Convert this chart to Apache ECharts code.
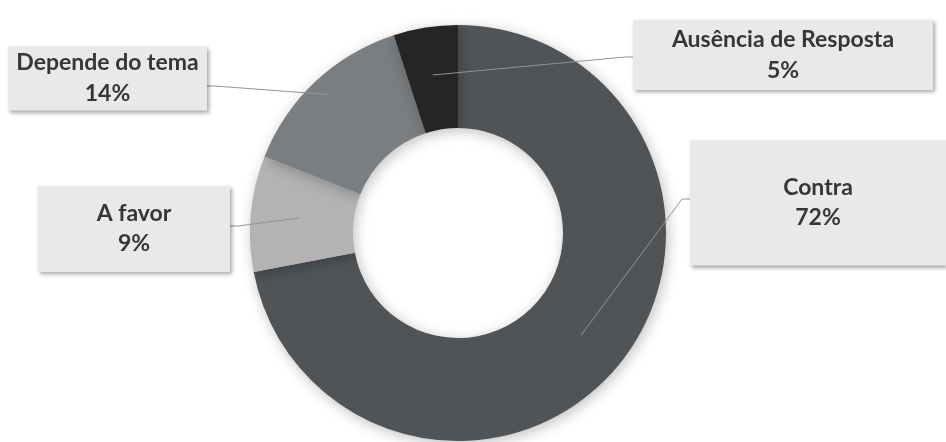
<!DOCTYPE html>
<html>
<head>
<meta charset="utf-8">
<script src="https://cdn.jsdelivr.net/npm/echarts@6/dist/echarts.min.js"></script>
<style>
  html, body { margin: 0; padding: 0; background: #ffffff; }
  #chart { width: 946px; height: 442px; }
</style>
</head>
<body>
<div id="chart"></div>
<script>
// Survey answers, clockwise from twelve o'clock
const categories = ['Contra', 'A favor', 'Depende do tema', 'Ausência de Resposta'];
const shares = [72, 9, 14, 5];
const sliceColors = ['#515457', '#b1b3b5', '#7b7e81', '#272425'];

// Ring geometry (pixels)
const CX = 458, CY = 233, R_IN = 105, R_OUT = 208;
// Callout boxes: centre, width, line height, vertical padding [top, bottom],
// where the leader line meets the box (lineY) and how deep it reaches into the ring (reach)
const labelBoxes = [
  { cx: 818, cy: 203, w: 256, pad: [33, 32], lh: 30, lineY: 199, reach: 160 },
  { cx: 134, cy: 229, w: 192, pad: [14, 12], lh: 30, lineY: 226, reach: 160 },
  { cx: 107.5, cy: 78.5, w: 199, pad: [1, 1], lh: 31, lineY: 86, reach: 190 },
  { cx: 783, cy: 55, w: 300, pad: [5, 3], lh: 31, lineY: 57, reach: 160 }
];

const total = shares.reduce((a, b) => a + b, 0);
function midAngle(i) {
  let before = 0;
  for (let k = 0; k < i; k++) before += shares[k];
  return ((before + shares[i] / 2) / total) * Math.PI * 2; // clockwise from top
}

const ring = {
  type: 'pie',
  center: [CX, CY],
  radius: [R_IN, R_OUT],
  startAngle: 90,
  clockwise: true,
  avoidLabelOverlap: false,
  emphasis: { disabled: true }
};

const chart = echarts.init(document.getElementById('chart'));
chart.setOption({
  animation: false,
  series: [
    // Coloured ring
    Object.assign({}, ring, {
      z: 2,
      label: { show: false },
      labelLine: { show: false },
      itemStyle: {
        shadowBlur: 14,
        shadowColor: 'rgba(0,0,0,0.25)',
        shadowOffsetX: 2,
        shadowOffsetY: 3
      },
      data: categories.map((name, i) => ({
        name: name,
        value: shares[i],
        itemStyle: { color: sliceColors[i] }
      }))
    }),
    // Callouts with leader lines, layered above the ring
    Object.assign({}, ring, {
      z: 3,
      silent: true,
      itemStyle: { color: 'rgba(0,0,0,0)' },
      data: categories.map((name, i) => {
        const b = labelBoxes[i];
        return {
          name: name,
          value: shares[i],
          label: {
            width: b.w,
            lineHeight: b.lh,
            padding: [b.pad[0], 0, b.pad[1], 0]
          }
        };
      }),
      label: {
        show: true,
        position: 'outside',
        formatter: '{b}\n{d}%',
        fontFamily: 'Lato',
        fontWeight: 'bold',
        fontSize: 23,
        color: '#363636',
        align: 'center',
        backgroundColor: '#e8e9eb',
        shadowColor: 'rgba(0,0,0,0.35)',
        shadowBlur: 4,
        shadowOffsetX: 2,
        shadowOffsetY: 2
      },
      labelLine: {
        show: true,
        length: 10,
        length2: 10,
        lineStyle: { color: '#939393', width: 1 }
      },
      labelLayout: function (p) {
        const i = p.dataIndex;
        const b = labelBoxes[i];
        const a = midAngle(i);
        const start = [CX + Math.sin(a) * b.reach, CY - Math.cos(a) * b.reach];
        const left = b.cx - b.w / 2, right = b.cx + b.w / 2;
        const endX = b.cx < CX ? right : left;
        const end = [endX, b.lineY];
        // short horizontal stub next to the box
        const stub = [endX + (b.cx < CX ? 8 : -8), b.lineY];
        return {
          x: b.cx,
          y: b.cy,
          align: 'center',
          verticalAlign: 'middle',
          labelLinePoints: [start, stub, end]
        };
      }
    })
  ]
});
</script>
</body>
</html>
